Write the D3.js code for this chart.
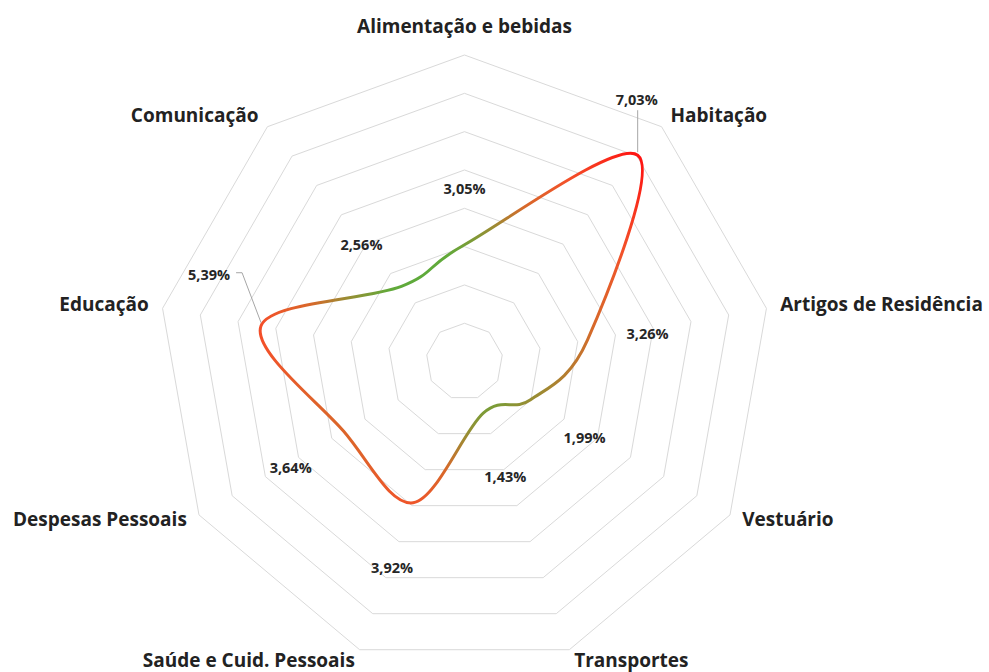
<!DOCTYPE html>
<html>
<head>
<meta charset="utf-8">
<script src="https://cdn.jsdelivr.net/npm/d3@7"></script>
<style>
  html, body { margin: 0; padding: 0; background: #ffffff; }
  svg { display: block; }
  text { font-family: "Open Sans", "Noto Sans", sans-serif; font-weight: 700; }
</style>
</head>
<body>
<svg id="chart" width="989" height="672"></svg>
<script>
// Categorias de despesa (sentido horário a partir do topo)
const categories = [
  "Alimentação e bebidas",
  "Habitação",
  "Artigos de Residência",
  "Vestuário",
  "Transportes",
  "Saúde e Cuid. Pessoais",
  "Despesas Pessoais",
  "Educação",
  "Comunicação"
];

// Variação acumulada (%) por categoria
const values = [3.05, 7.03, 3.26, 1.99, 1.43, 3.92, 3.64, 5.39, 2.56];

// Anéis da grade (0 a 8, passo 1)
const gridLevels = [1, 2, 3, 4, 5, 6, 7, 8];

// Deslocamento dos rótulos de valor em relação ao ponto (px) e se levam linha de chamada
const labelOffsets = [
  [0, -56], [-1, -55], [60, -6], [54, 38], [22, 64],
  [-21, 65], [-53, 37], [-52, -51], [-40, -41]
];
const labelLeader = [false, true, false, false, false, false, false, true, false];

const svg = d3.select("#chart");
const cx = 464.5, cy = 361.6;
const rScale = d3.scaleLinear().domain([0, 8]).range([0, 306.6]);
const n = categories.length;
const angle = i => (i * 2 * Math.PI) / n;
const pt = (i, v) => [cx + rScale(v) * Math.sin(angle(i)), cy - rScale(v) * Math.cos(angle(i))];
const fmt = v => v.toFixed(2).replace(".", ",") + "%";

// Grade em forma de eneágono
const gridG = svg.append("g");
gridLevels.forEach(level => {
  gridG.append("path")
    .attr("d", d3.line()(d3.range(n).map(i => pt(i, level))) + "Z")
    .attr("fill", "none")
    .attr("stroke", "#d9d9d9")
    .attr("stroke-width", 1);
});

// Rótulos das categorias junto ao anel externo
const outer = d3.max(gridLevels);
categories.forEach((c, i) => {
  const [vx, vy] = pt(i, outer);
  const s = Math.sin(angle(i)), co = Math.cos(angle(i));
  let anchor = "middle", x = vx, y;
  if (Math.abs(s) < 0.05) {
    y = vy - 22;
  } else {
    anchor = s > 0 ? "start" : "end";
    x = vx + 14 * s;
    y = vy + 5 - 13 * co;
  }
  svg.append("text")
    .attr("x", x).attr("y", y)
    .attr("text-anchor", anchor)
    .attr("font-size", 19)
    .attr("fill", "#222222")
    .text(c);
});

// Linha suavizada com gradiente radial (verde no centro, vermelho nas bordas)
const points = values.map((v, i) => pt(i, v));
const lineGen = d3.line().curve(d3.curveCardinalClosed.tension(0));
const path = svg.append("path")
  .attr("d", lineGen(points))
  .attr("fill", "none")
  .attr("stroke-width", 3)
  .attr("stroke-linejoin", "round");

const bb = path.node().getBBox();
const gcx = bb.x + bb.width / 2, gcy = bb.y + bb.height / 2;
const gr = Math.hypot(bb.width, bb.height) / 2;
const grad = svg.append("defs").append("radialGradient")
  .attr("id", "lineGrad")
  .attr("gradientUnits", "userSpaceOnUse")
  .attr("cx", gcx).attr("cy", gcy).attr("r", gr)
  .attr("fx", gcx).attr("fy", gcy);
[[0, "#4aae3c"], [0.28, "#62a93a"], [0.42, "#9a8c33"], [0.55, "#d8682a"],
 [0.72, "#f2522a"], [1, "#ff1010"]].forEach(([o, c]) => {
  grad.append("stop").attr("offset", o).attr("stop-color", c);
});
path.attr("stroke", "url(#lineGrad)");

// Rótulos de valor
values.forEach((v, i) => {
  const [px, py] = points[i];
  const [dx, dy] = labelOffsets[i];
  const lx = px + dx, ly = py + dy;
  if (labelLeader[i]) {
    let d;
    if (i === 1) {
      d = `M${px},${py - 3}L${px},${ly + 10}`;
    } else {
      d = `M${px},${py - 3}L${lx + 33},${ly - 2}L${lx + 27},${ly - 2}`;
    }
    svg.append("path").attr("d", d)
      .attr("fill", "none").attr("stroke", "#a6a6a6").attr("stroke-width", 1);
  }
  svg.append("text")
    .attr("x", lx).attr("y", ly + 5)
    .attr("text-anchor", "middle")
    .attr("font-size", 14.5)
    .attr("fill", "#262626")
    .text(fmt(v));
});
</script>
</body>
</html>
